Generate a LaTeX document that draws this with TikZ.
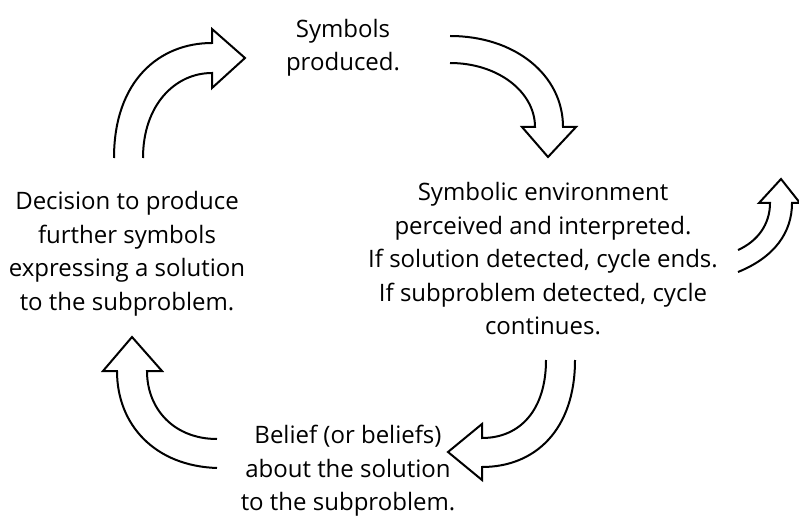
\documentclass[tikz,border=0pt]{standalone}
\usepackage{fontspec}
\setmainfont{Open Sans}
\begin{document}
\begin{tikzpicture}[x=1pt,y=-1pt,
  lbl/.style={align=center,font=\fontsize{24}{33.5}\selectfont,inner sep=0pt},
  blk/.style={draw=black,line width=2pt,line join=miter,fill=none}]
\useasboundingbox (0,0) rectangle (799,518);
\node[lbl] (sym) at (343,48) {Symbols\\produced.};
\node[lbl] (env) at (543,259) {Symbolic environment\\perceived and interpreted.\\If solution detected, cycle ends.\\If subproblem detected, cycle\\continues.};
\node[lbl] (bel) at (348,471) {Belief (or beliefs)\\about the solution\\to the subproblem.};
\node[lbl] (dec) at (127,254) {Decision to produce\\further symbols\\expressing a solution\\to the subproblem.};
% top-left arrow
\draw[blk] (114,158) .. controls (114,80) and (160,43) .. (212,43) -- (212,29) -- (245,58) -- (212,88) -- (212,73) .. controls (175,73) and (143,105) .. (143,158);
% top-right arrow
\draw[blk] (450,36) .. controls (515,36) and (563,75) .. (563,127) -- (576,127) -- (548,157) -- (522,127) -- (535,127) .. controls (535,92) and (498,63) .. (450,63);
% right small arrow
\draw[blk] (738,272) .. controls (775,257) and (792,232) .. (792,203) -- (800,203) -- (781,179) -- (759,203) -- (770,203) .. controls (770,224) and (758,241) .. (738,250);
% bottom-right arrow
\draw[blk] (575,360) .. controls (575,430) and (535,467) .. (482,467) -- (482,480) -- (448,452) -- (482,424) -- (482,438) .. controls (520,438) and (546,410) .. (546,360);
% bottom-left arrow
\draw[blk] (217,468) .. controls (155,466) and (117,425) .. (117,371) -- (103,371) -- (132,337) -- (162,371) -- (147,371) .. controls (147,410) and (175,439) .. (217,439);
\end{tikzpicture}
\end{document}
